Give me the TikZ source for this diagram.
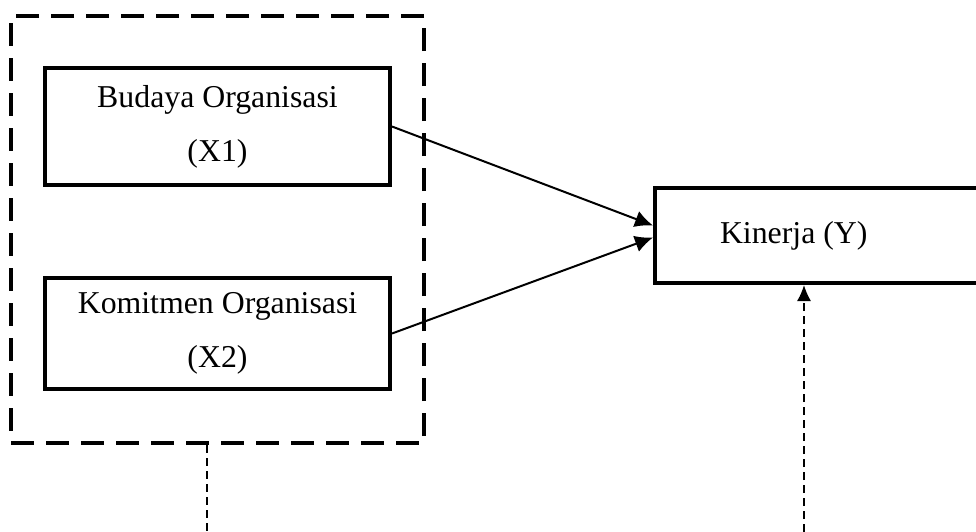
\documentclass[tikz,border=0pt]{standalone}
\usepackage{fontspec}
\setmainfont{Liberation Serif}
\usetikzlibrary{arrows.meta,%
                fit,%
                positioning}

\begin{document}
\begin{tikzpicture}[x=1pt,y=-1pt]
  \tikzstyle{VarBox}=[draw,line width=4pt,rectangle,align=center,
                      font=\fontsize{31.8}{54}\selectfont]
  \tikzstyle{GroupBox}=[draw,line width=4pt,dash pattern=on 23pt off 12pt]
  \tikzstyle{Path}=[line width=2pt,-{Latex[length=18pt,width=17pt]}]
  \tikzstyle{Other}=[line width=1.5pt,dash pattern=on 8pt off 5pt]
  \useasboundingbox[fill=white] (0,0) rectangle (976,531);
  \node[VarBox,minimum width=345pt,minimum height=117pt] (X1) at (217.5,126.5)
    {Budaya Organisasi\\(X1)};
  \node[VarBox,minimum width=345pt,minimum height=111pt] (X2) at (217.5,333.5)
    {Komitmen Organisasi\\(X2)};
  \node[VarBox,anchor=west,minimum height=95pt,inner xsep=65pt,
        text width=227pt,align=flush left] (Y) at (653,235.5) {Kinerja (Y)};
  \node[GroupBox,fit=(X1) (X2),inner xsep=32pt,inner ysep=51pt,
        yshift=-1pt] (G) {};
  \coordinate (GE) at (207,545);
  \coordinate (YE) at (804,545);
  \draw[Path] (X1.east) -- ([yshift=10pt]Y.west);
  \draw[Path] (X2.east) -- ([yshift=-2pt]Y.west);
  \draw[Other] (G.south -| GE) -- (GE);
  \draw[Other,-{Latex[length=16pt,width=14pt]}] (YE) -- (Y.south -| YE);
\end{tikzpicture}
\end{document}
